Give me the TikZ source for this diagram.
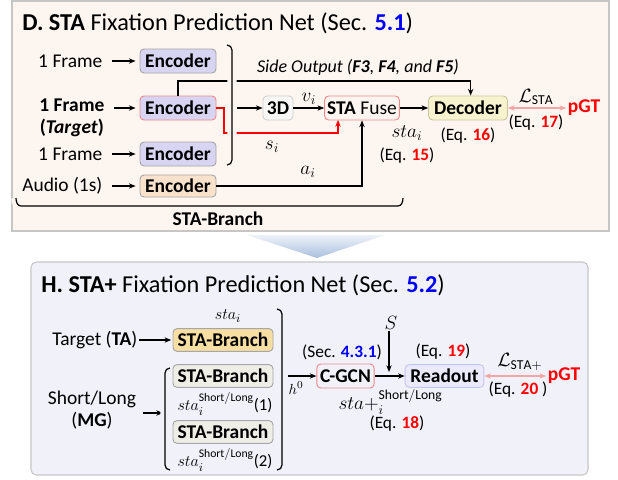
\documentclass[tikz,border=0pt]{standalone}
\usepackage{fontspec}
\setmainfont{Carlito}
\usetikzlibrary{positioning,arrows.meta}
\definecolor{panelDfill}{HTML}{FDF5F0}
\definecolor{panelHfill}{HTML}{F1F1FA}
\definecolor{panelline}{HTML}{C6C6C6}
\definecolor{encfill}{HTML}{D8D5F2}
\definecolor{audiofill}{HTML}{F9E2CC}
\definecolor{decfill}{HTML}{F8F3CF}
\definecolor{decline}{HTML}{C9C6A0}
\definecolor{threedfill}{HTML}{F7F7F5}
\definecolor{threedline}{HTML}{D2D2D2}
\definecolor{fuseline}{HTML}{F08A8A}
\definecolor{readfill}{HTML}{EAEAFA}
\definecolor{readline}{HTML}{C5C5F2}
\definecolor{branchfill}{HTML}{F7DFA3}
\definecolor{branchgray}{HTML}{EEEEE6}
\definecolor{boxline}{HTML}{A6A6A6}
\definecolor{losspink}{HTML}{F4A6A6}
\definecolor{eqred}{HTML}{FF0000}
\definecolor{secblue}{HTML}{0000FF}
\definecolor{chevtop}{HTML}{EEF2F9}
\definecolor{chevbot}{HTML}{A9BFDE}
\begin{document}
\begin{tikzpicture}[x=0.75pt,y=-0.75pt,
	txt/.style={font=\fontsize{14.6}{16.5}\selectfont, inner sep=1pt},
	eqtxt/.style={font=\fontsize{13}{15}\selectfont, inner sep=1pt},
	smalltxt/.style={font=\fontsize{12.5}{14}\selectfont, inner sep=1pt},
	modbox/.style={draw=boxline, rounded corners=3pt, line width=0.7pt, minimum height=18pt, inner sep=1.5pt, font=\fontsize{14.6}{16.5}\selectfont\bfseries},
	arr/.style={-{Stealth[length=5pt,width=4pt]}, line width=0.9pt},
	feed/.style={arr, shorten <=6pt, shorten >=3pt},
	lossarr/.style={{Stealth[length=5pt,width=4pt]}-{Stealth[length=5pt,width=4pt]}, draw=losspink, line width=1pt},
	bracket/.style={line width=0.9pt, preaction={draw=#1, line width=7pt}}]
	\newcommand{\myredeq}[1]{\textcolor{eqred}{\textbf{#1}}}
	\newcommand{\mybluesec}[1]{\textcolor{secblue}{\textbf{#1}}}
	\useasboundingbox (0,0) rectangle (618,479);
	%Panels
	\draw [draw=panelline, fill=panelDfill, line width=0.8pt] (12,1) rectangle (609,231);
	\draw [draw=panelline, fill=panelHfill, line width=0.8pt, rounded corners=4pt] (31,262) rectangle (588,475);
	%Chevron between the panels
	\shade [top color=chevtop, bottom color=chevbot] (247,235) -- (385,235) -- (317,258) -- cycle;
	% ---------------- Panel D ----------------
	\node [anchor=west, font=\fontsize{18.2}{20}\selectfont, inner sep=0pt] (titleD) at (22,23) {\textbf{D. STA} Fixation Prediction Net (Sec. \mybluesec{5.1})};
	%Inputs
	\node [txt, anchor=east] (frameA) at (104,61) {1 Frame};
	\node [txt, anchor=east, align=center] (frameB) at (106,118) {\textbf{1 Frame}\\\textbf{(\textit{Target})}};
	\node [txt, anchor=east] (frameC) at (104,154) {1 Frame};
	\node [txt, anchor=east] (audio) at (104,186) {Audio (1s)};
	%Encoders
	\node [modbox, fill=encfill, minimum width=57pt] (encA) at (178,61) {Encoder};
	\node [modbox, fill=encfill, draw=fuseline, minimum width=57pt] (encB) at (178,108) {Encoder};
	\node [modbox, fill=encfill, minimum width=57pt] (encC) at (178,154) {Encoder};
	\node [modbox, fill=audiofill, minimum width=57pt, minimum height=16.5pt] (encD) at (178,186) {Encoder};
	\draw [feed] (frameA) -- (encA);
	\draw [feed] (frameB.east |- encB) -- (encB);
	\draw [feed] (frameC) -- (encC);
	\draw [feed] (audio) -- (encD);
	%Fusion chain
	\node [modbox, fill=threedfill, draw=threedline, minimum width=22.5pt] (threeD) at (278,108) {3D};
	\node [modbox, fill=panelDfill, draw=fuseline, font=\fontsize{14.6}{16.5}\selectfont, minimum width=56pt] (fuse) at (362,108) {\textbf{STA} Fuse};
	\node [modbox, fill=decfill, draw=decline, minimum width=59pt] (dec) at (468,108) {Decoder};
	\node [txt, text=eqred, font=\fontsize{14.6}{16.5}\selectfont\bfseries] (pgtD) at (584,108) {pGT};
	\coordinate (brkD) at (237,108);
	\coordinate (sidebar) at (300,81);
	\coordinate (redturn) at (224,133);
	\coordinate (redup) at (338,120);
	\draw [arr] (brkD) -- (threeD);
	\draw [arr] (threeD) -- node [txt, above=1pt] (vlab) {$v_i$} (fuse);
	\draw [arr] (fuse) -- (dec);
	\draw [lossarr] (dec) -- (pgtD);
	%Side output
	\draw [arr] (encB.north) |- (sidebar) -| ([xshift=2pt]dec.north);
	\node [font=\fontsize{13.5}{15}\selectfont\itshape, inner sep=1pt] (sidelab) at (358,67) {Side Output (\textbf{F3}, \textbf{F4}, and \textbf{F5})};
	%Red skip path
	\draw [arr, draw=eqred, line width=1pt] (encB.east) -| (redturn) -| (redup);
	\draw [arr] (encD.east) -| (fuse.south);
	%Bracket over the frames
	\draw [bracket=panelDfill] (227,45) to[out=0,in=90] (232,50) -- (232,160) to[out=-90,in=0] (227,165);
	%STA-Branch bracket
	\draw [bracket=panelDfill] (16,198) to[out=-90,in=180] (21,206) -- (398,206) to[out=0,in=-90] (403,198);
	\node [txt, font=\fontsize{14.6}{16.5}\selectfont\bfseries] (branchlab) at (218,219) {STA-Branch};
	%Labels
	\node [txt] (slab) at (272,147) {$s_i$};
	\node [txt] (alab) at (308,172) {$a_i$};
	\node [txt] (stalab) at (407,133) {$sta_i$};
	\node [eqtxt] (eqA) at (407,156) {(Eq. \myredeq{15})};
	\node [eqtxt] (eqB) at (468,136) {(Eq. \myredeq{16})};
	\node [txt] (lossD) at (536,97) {$\mathcal{L}_{\mathrm{STA}}$};
	\node [eqtxt] (eqC) at (536,123) {(Eq. \myredeq{17})};
	% ---------------- Panel H ----------------
	\node [anchor=west, font=\fontsize{18.2}{20}\selectfont, inner sep=0pt] (titleH) at (41,285) {\textbf{H. STA+} Fixation Prediction Net (Sec. \mybluesec{5.2})};
	%Inputs
	\node [txt, anchor=east] (target) at (139,340) {Target (\textbf{TA})};
	\node [txt, align=center] (mg) at (92,410) {Short/Long\\(\textbf{MG})};
	%Branches
	\node [modbox, fill=branchfill, minimum width=75pt, minimum height=17pt] (sbA) at (223,340) {STA-Branch};
	\node [modbox, fill=branchgray, minimum width=75pt, minimum height=17pt] (sbB) at (223,376) {STA-Branch};
	\node [modbox, fill=branchgray, minimum width=75pt, minimum height=17pt] (sbC) at (223,432) {STA-Branch};
	\node [smalltxt] (staA) at (228,316) {$sta_i$};
	\node [smalltxt] (staB) at (225,404) {$sta_i^{\mathrm{Short/Long}}$(1)};
	\node [smalltxt] (staC) at (225,460) {$sta_i^{\mathrm{Short/Long}}$(2)};
	\coordinate (lbr) at (163,413);
	\draw [arr, shorten >=1pt] (target) -- (sbA);
	\draw [arr, shorten <=4pt] (mg.east |- lbr) -- (lbr);
	%Brackets
	\draw [bracket=panelHfill] (277,309) to[out=0,in=90] (282,314) -- (282,465) to[out=-90,in=0] (277,470);
	\draw [bracket=panelHfill] (170,368) to[out=180,in=90] (165,373) -- (165,465) to[out=-90,in=180] (170,470);
	%Graph part
	\node [modbox, fill=panelHfill, draw=fuseline, minimum width=43pt] (cgcn) at (345.5,376) {C-GCN};
	\node [modbox, fill=readfill, draw=readline, minimum width=59pt, minimum height=17pt] (readout) at (444.5,376) {Readout};
	\node [txt, text=eqred, font=\fontsize{14.6}{16.5}\selectfont\bfseries] (pgtH) at (564,376) {pGT};
	\coordinate (hzero) at (288,376);
	\coordinate (sdown) at (389,372);
	\draw [arr] (hzero) -- (cgcn);
	\node [txt, font=\fontsize{11}{13}\selectfont] (hlab) at (296,388) {$h^0$};
	\draw [arr] (cgcn) -- (readout);
	\draw [lossarr] (readout) -- (pgtH);
	\node [txt] (slabH) at (391,323) {$S$};
	\draw [arr] (slabH.south -| sdown) -- (sdown);
	%Labels
	\node [eqtxt] (secH) at (342,352) {(Sec. \mybluesec{4.3.1})};
	\node [eqtxt] (eqD) at (443,352) {(Eq. \myredeq{19})};
	\node [txt, anchor=west] (staplus) at (337,402) {$sta+_i^{\mathrm{Short/Long}}$};
	\node [eqtxt] (eqE) at (397,424) {(Eq. \myredeq{18})};
	\node [txt] (lossH) at (520,362) {$\mathcal{L}_{\mathrm{STA+}}$};
	\node [eqtxt] (eqF) at (518,390) {(Eq. \myredeq{20} )};
\end{tikzpicture}
\end{document}
